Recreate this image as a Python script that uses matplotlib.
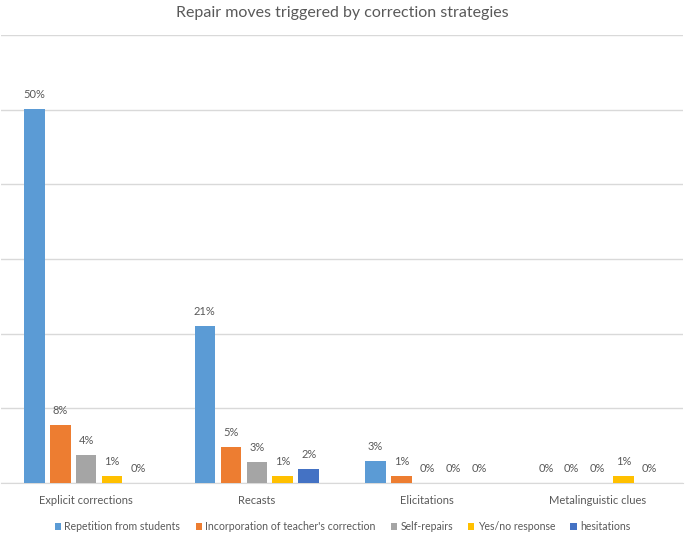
import numpy as np
import matplotlib
matplotlib.use("Agg")
import matplotlib.pyplot as plt

plt.rcParams["font.family"] = ["Lato", "DejaVu Sans"]

categories = ["Explicit corrections", "Recasts", "Elicitations", "Metalinguistic clues"]
series_names = ["Repetition from students", "Incorporation of teacher's correction",
                "Self-repairs", "Yes/no response", "hesitations"]
repetition   = [50.1, 21.0, 2.9, 0.0]
incorporation = [7.8, 4.8, 0.9, 0.0]
self_repairs = [3.8, 2.8, 0.0, 0.0]
yes_no       = [0.9, 0.9, 0.0, 0.9]
hesitations  = [0.0, 1.9, 0.0, 0.0]
series = [repetition, incorporation, self_repairs, yes_no, hesitations]
colors = ["#5B9BD5", "#ED7D31", "#A5A5A5", "#FFC000", "#4472C4"]

TXT = "#595959"

fig = plt.figure(figsize=(6.85, 5.35), dpi=100)
ax = fig.add_axes([1 / 685, 52 / 535, 682 / 685, 448 / 535])

x = np.arange(len(categories))
slot = 0.1523
width = 0.12
for i, (vals, name, col) in enumerate(zip(series, series_names, colors)):
    pos = x + (i - 2) * slot
    bars = ax.bar(pos, vals, width, color=col, label=name, zorder=3)
    for b, v in zip(bars, vals):
        ax.annotate(f"{v:.0f}%", (b.get_x() + b.get_width() / 2, v),
                    xytext=(0, 10.5), textcoords="offset points",
                    ha="center", va="center", fontsize=8, color=TXT)

ax.set_xlim(-0.5, 3.5)
ax.set_ylim(0, 60)
ax.set_yticks(np.arange(0, 61, 10))
ax.yaxis.grid(True, color="#D9D9D9", linewidth=1, zorder=0)
ax.tick_params(axis="y", left=False, labelleft=False)
ax.tick_params(axis="x", length=0, pad=9, labelsize=8, labelcolor=TXT)
ax.set_xticks(x)
ax.set_xticklabels(categories)
for s in ["top", "left", "right"]:
    ax.spines[s].set_visible(False)
ax.spines["bottom"].set_color("#D9D9D9")

fig.text(0.5, 1 - 13 / 535, "Repair moves triggered by correction strategies",
         ha="center", va="center", fontsize=11.5, color=TXT)

fig.legend(loc="center", bbox_to_anchor=(0.5, 1 - 527 / 535), ncol=5, frameon=False,
           fontsize=7.6, labelcolor=TXT, handlelength=0.6, handleheight=0.6,
           handletextpad=0.3, columnspacing=1.45)

fig.savefig("out.png", dpi=100)
